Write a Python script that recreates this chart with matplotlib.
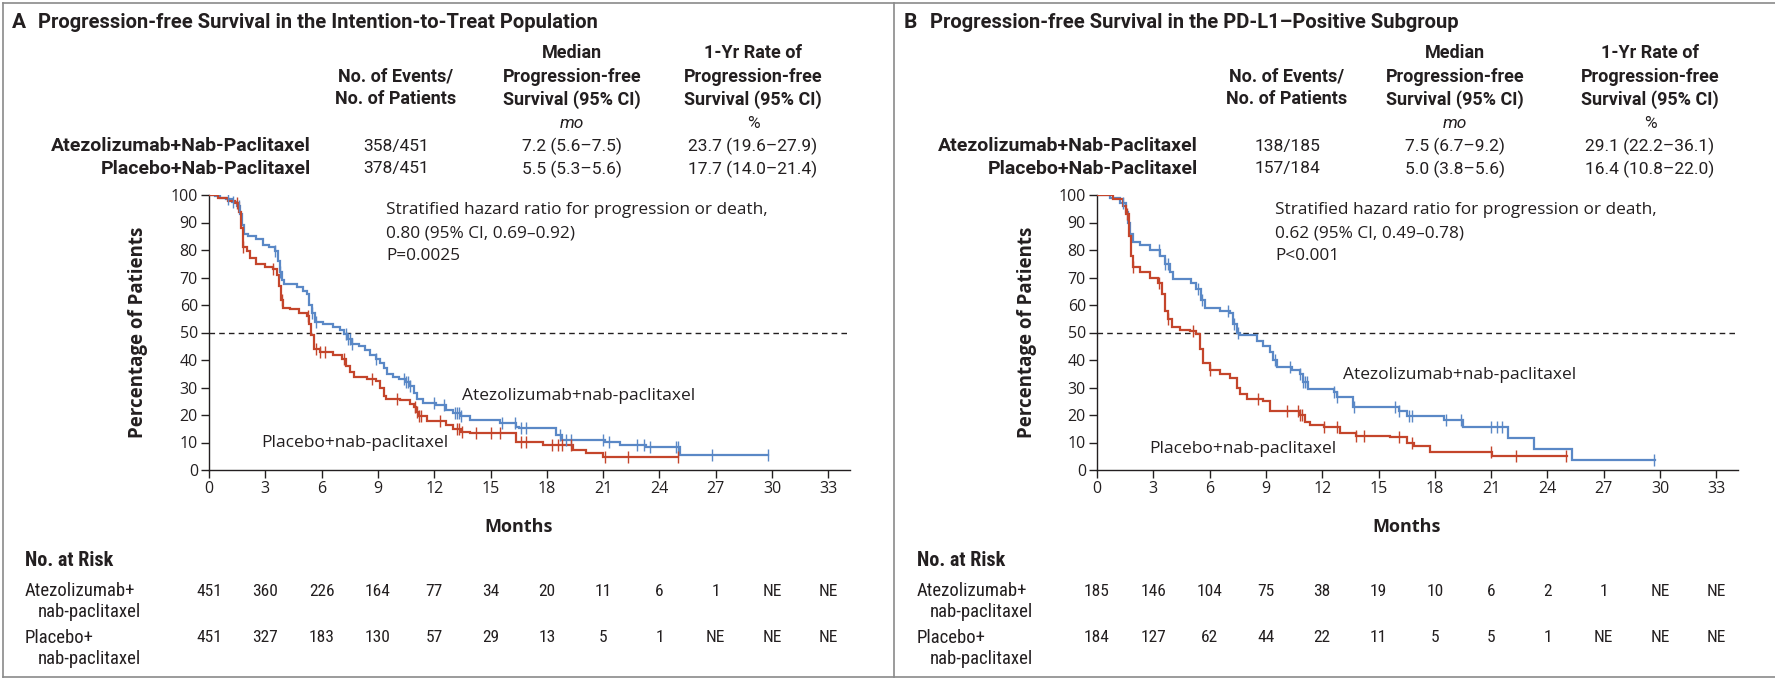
import matplotlib
matplotlib.use("Agg")
import matplotlib.pyplot as plt
from matplotlib import font_manager as fm
from matplotlib.transforms import Affine2D, blended_transform_factory
from matplotlib.lines import Line2D

# ---------------------------------------------------------------- data
# Kaplan-Meier steps: (month, percent progression-free after the step)
atezo_itt = [(0, 100), (0.3, 99.6), (0.6, 99), (0.9, 98.5), (1.2, 97.5), (1.5, 96), (1.65, 93),
             (1.75, 89), (1.85, 86), (2.1, 85), (2.5, 84), (2.9, 82), (3.2, 81), (3.5, 79.5),
             (3.7, 76), (3.8, 72), (3.9, 69), (4.0, 67.5), (4.7, 66.5), (5.0, 65), (5.2, 64),
             (5.35, 60), (5.5, 57), (5.65, 54), (6.1, 53), (6.6, 52), (7.0, 51), (7.2, 49.5),
             (7.35, 47.5), (7.6, 46), (8.0, 45), (8.3, 43.5), (8.6, 42), (8.9, 40.5), (9.1, 39),
             (9.3, 37), (9.5, 35), (9.8, 34), (10.1, 33), (10.5, 32), (10.7, 30.5), (10.9, 28),
             (11.1, 26), (11.4, 24.5), (12.1, 23.5), (12.6, 22), (13.0, 20.8), (13.4, 19.5),
             (13.9, 18.2), (15.5, 17), (16.35, 15.8), (16.5, 15.2), (18.5, 12.6), (18.8, 11.0),
             (21.1, 10.3), (21.9, 9.1), (23.3, 8.5), (25.1, 5.5)]
atezo_itt_end = 29.8
atezo_itt_censor = [1.0, 1.3, 1.6, 3.5, 3.8, 5.5, 5.7, 7.3, 7.4, 7.5, 7.6, 8.9, 10.4, 10.5, 10.6,
                    10.7, 12.0, 12.5, 13.1, 13.2, 13.3, 13.4, 15.6, 16.3, 16.6, 16.9, 18.7, 19.0,
                    19.3, 21.0, 21.3, 22.8, 23.2, 23.5, 24.9, 25.0, 26.8, 29.8]

placebo_itt = [(0, 100), (0.5, 99), (1.0, 98), (1.4, 97), (1.6, 94), (1.7, 88), (1.8, 81),
               (2.0, 79.5), (2.2, 77), (2.5, 75), (3.0, 74), (3.4, 73), (3.6, 71), (3.75, 67),
               (3.85, 62), (3.95, 59), (4.3, 58.5), (4.8, 57), (5.2, 56), (5.35, 53), (5.45, 49),
               (5.6, 44), (5.9, 43), (6.6, 42), (7.1, 40.5), (7.3, 38), (7.5, 35.5), (7.7, 34),
               (8.4, 33), (8.9, 32.5), (9.1, 30), (9.3, 27), (9.45, 26), (10.2, 25.5), (10.7, 24),
               (10.9, 23), (11.05, 21), (11.2, 19.5), (11.6, 18), (12.6, 16.5), (13.0, 15),
               (13.4, 14), (13.9, 13.3), (16.35, 10.3), (17.8, 9.1), (19.4, 7.3), (20.1, 6.1),
               (21.0, 4.8)]
placebo_itt_end = 25.0
placebo_itt_censor = [1.5, 1.8, 3.4, 3.9, 5.3, 5.7, 5.9, 6.2, 7.2, 8.7, 10.0, 11.0, 11.1, 11.2,
                      11.3, 12.3, 13.2, 13.3, 13.5, 14.2, 15.0, 15.5, 16.6, 16.9, 18.3, 18.6,
                      18.8, 19.3, 21.1, 22.3, 25.0]

atezo_pdl1 = [(0, 100), (0.7, 99), (1.2, 97), (1.55, 94), (1.65, 90), (1.75, 86), (1.9, 83),
              (2.3, 82), (2.8, 80), (3.35, 78), (3.6, 75), (3.9, 72), (4.05, 69.5), (5.0, 68),
              (5.3, 66), (5.55, 62), (5.75, 59), (6.55, 58), (7.1, 57), (7.25, 53), (7.45, 50),
              (7.6, 49), (8.5, 47), (8.85, 45), (9.2, 43), (9.4, 40), (9.6, 37.5), (10.4, 36.5),
              (10.8, 35), (11.0, 32), (11.25, 29.5), (12.6, 28.3), (12.8, 26.5), (13.65, 22.8),
              (16.1, 21.6), (16.5, 19.8), (18.5, 18.2), (19.5, 15.6), (21.9, 11.7), (23.3, 7.7),
              (25.3, 3.6)]
atezo_pdl1_end = 29.75
atezo_pdl1_censor = [1.4, 3.3, 3.6, 3.8, 5.4, 5.6, 7.0, 7.3, 7.5, 9.5, 10.3, 10.8, 11.0, 11.1,
                     11.2, 12.6, 12.8, 13.7, 15.9, 16.1, 16.6, 16.8, 18.6, 19.4, 21.0, 21.3,
                     21.6, 29.7]

placebo_pdl1 = [(0, 100), (0.85, 98.5), (1.4, 96), (1.55, 93), (1.7, 85), (1.8, 78), (1.9, 74),
                (2.3, 72), (2.8, 70), (3.25, 68), (3.45, 64), (3.6, 58), (3.8, 55), (3.97, 52),
                (4.4, 51), (4.95, 50.5), (5.3, 49.5), (5.48, 44), (5.66, 39), (6.0, 36.5),
                (6.55, 35), (7.1, 33.5), (7.44, 30), (7.6, 27.5), (7.97, 26), (8.86, 25),
                (9.2, 21.5), (10.8, 20), (11.1, 17.5), (11.35, 16.3), (12.1, 15.6), (12.95, 13.4),
                (13.8, 12.5), (15.6, 11.9), (16.5, 10), (16.9, 8.9), (17.75, 6.4), (21.04, 5.2)]
placebo_pdl1_end = 25.04
placebo_pdl1_censor = [1.6, 1.9, 3.3, 3.8, 5.1, 6.0, 8.6, 10.1, 10.7, 10.8, 10.9, 12.1, 12.8,
                       13.8, 14.2, 16.1, 16.8, 21.0, 22.3, 25.0]

risk_months = list(range(0, 34, 3))
risk_atezo_itt = ["451", "360", "226", "164", "77", "34", "20", "11", "6", "1", "NE", "NE"]
risk_placebo_itt = ["451", "327", "183", "130", "57", "29", "13", "5", "1", "NE", "NE", "NE"]
risk_atezo_pdl1 = ["185", "146", "104", "75", "38", "19", "10", "6", "2", "1", "NE", "NE"]
risk_placebo_pdl1 = ["184", "127", "62", "44", "22", "11", "5", "5", "1", "NE", "NE", "NE"]

header_cols = ["No. of Events/\nNo. of Patients",
               "Median\nProgression-free\nSurvival (95% CI)",
               "1-Yr Rate of\nProgression-free\nSurvival (95% CI)"]
header_units = ["", "mo", "%"]
arm_names = ["Atezolizumab+Nab-Paclitaxel", "Placebo+Nab-Paclitaxel"]
summary_itt = [["358/451", "7.2 (5.6\u20137.5)", "23.7 (19.6\u201327.9)"],
               ["378/451", "5.5 (5.3\u20135.6)", "17.7 (14.0\u201321.4)"]]
summary_pdl1 = [["138/185", "7.5 (6.7\u20139.2)", "29.1 (22.2\u201336.1)"],
                ["157/184", "5.0 (3.8\u20135.6)", "16.4 (10.8\u201322.0)"]]
hazard_itt = ["Stratified hazard ratio for progression or death,",
              "0.80 (95% CI, 0.69\u20130.92)", "P=0.0025"]
hazard_pdl1 = ["Stratified hazard ratio for progression or death,",
               "0.62 (95% CI, 0.49\u20130.78)", "P<0.001"]

# ---------------------------------------------------------------- style
W, H = 1775, 680
BLUE = "#5A88C6"
RED = "#C4452B"
INK = "#231F20"

avail = {f.name for f in fm.fontManager.ttflist}
def pick(names, default):
    for n in names:
        if n in avail:
            return n
    return default

TABLE = pick(["Roboto", "Liberation Sans"], "DejaVu Sans")
NARROW = pick(["Liberation Sans Narrow", "Roboto Condensed", "Open Sans Condensed"], TABLE)
PLOT = pick(["Open Sans", "Lato", "Noto Sans"], "DejaVu Sans")

fig = plt.figure(figsize=(W / 100, H / 100), dpi=100)
PX = Affine2D().scale(1 / W, -1 / H).translate(0, 1) + fig.transFigure


def ftext(x, y, s, **kw):
    kw.setdefault("color", INK)
    kw.setdefault("family", TABLE)
    fig.text(x, y, s, transform=PX, **kw)


def surv_at(steps, t):
    val = steps[0][1]
    for tt, s in steps:
        if tt <= t:
            val = s
    return val


def draw_curve(ax, steps, end, censor, color):
    ts = [t for t, _ in steps] + [end]
    ss = [s for _, s in steps] + [steps[-1][1]]
    ax.step(ts, ss, where="post", color=color, lw=1.6, solid_joinstyle="miter", zorder=3)
    ax.plot(censor, [surv_at(steps, c) for c in censor], ls="none", marker="|",
            ms=8, mew=1.0, color=color, zorder=4)


XMAX = 34.15
panels = [
    dict(x0=209, letter="A", title="Progression-free Survival in the Intention-to-Treat Population",
         tx=(12, 38), cols=[396, 572, 753], rowx=311, summary=summary_itt,
         curves=[(atezo_itt, atezo_itt_end, atezo_itt_censor, BLUE),
                 (placebo_itt, placebo_itt_end, placebo_itt_censor, RED)],
         hazard=hazard_itt, hx=386,
         lab_atezo=(13.5, 27.0), lab_plac=(2.8, 9.8),
         risk=(risk_atezo_itt, risk_placebo_itt), left=25, ylab=138),
    dict(x0=1097, letter="B", title="Progression-free Survival in the PD-L1\u2013Positive Subgroup",
         tx=(904, 930), cols=[1287, 1455, 1650], rowx=1198, summary=summary_pdl1,
         curves=[(atezo_pdl1, atezo_pdl1_end, atezo_pdl1_censor, BLUE),
                 (placebo_pdl1, placebo_pdl1_end, placebo_pdl1_censor, RED)],
         hazard=hazard_pdl1, hx=1275,
         lab_atezo=(13.1, 34.6), lab_plac=(2.8, 7.6),
         risk=(risk_atezo_pdl1, risk_placebo_pdl1), left=917, ylab=1027),
]

Y_TOP, Y_BOT = 195, 470
PXM = 18.77  # pixels per month

for p in panels:
    width = XMAX * PXM
    ax = fig.add_axes([p["x0"] / W, 1 - Y_BOT / H, width / W, (Y_BOT - Y_TOP) / H])
    for c in p["curves"]:
        draw_curve(ax, *c)
    ax.axhline(50, color=INK, lw=1.0, dashes=(4, 3), zorder=2)
    ax.set_xlim(0, XMAX)
    ax.set_ylim(0, 100)
    ax.set_xticks(risk_months)
    ax.set_yticks(range(0, 101, 10))
    for s in ("top", "right"):
        ax.spines[s].set_visible(False)
    for s in ("left", "bottom"):
        ax.spines[s].set_linewidth(1.0)
        ax.spines[s].set_color(INK)
    ax.tick_params(direction="out", length=6, width=1.0, color=INK, labelcolor=INK,
                   labelsize=11.5, pad=2)
    for lab in ax.get_xticklabels() + ax.get_yticklabels():
        lab.set_family(PLOT)
    ax.patch.set_alpha(0)

    # curve labels and hazard ratio
    ax.text(*p["lab_atezo"], "Atezolizumab+nab-paclitaxel", family=PLOT, fontsize=12.5,
            color=INK, va="center", ha="left")
    ax.text(*p["lab_plac"], "Placebo+nab-paclitaxel", family=PLOT, fontsize=12.5,
            color=INK, va="center", ha="left")
    for i, line in enumerate(p["hazard"]):
        ftext(p["hx"], 210 + 23 * i, line, family=PLOT, fontsize=12.4, va="center")

    # axis titles
    ftext(p["ylab"], (Y_TOP + Y_BOT) / 2, "Percentage of Patients", family=PLOT,
          fontsize=13.5, weight="bold", rotation=90, ha="center", va="center")
    ftext(p["x0"] + 16.5 * PXM, 527, "Months", family=PLOT, fontsize=13, weight="bold",
          ha="center", va="center")

    # panel title
    ftext(p["tx"][0], 23, p["letter"], fontsize=15, weight="bold", va="center")
    ftext(p["tx"][1], 23, p["title"], fontsize=14.5, weight="bold", va="center")

    # summary table
    for cx, head, unit in zip(p["cols"], header_cols, header_units):
        lines = head.split("\n")
        for j, ln in enumerate(lines):
            yy = 99.5 - 23 * (len(lines) - 1 - j)
            ftext(cx, yy, ln, fontsize=13, weight="bold", ha="center", va="center")
        if unit:
            ftext(cx, 124, unit, fontsize=12.5, style="italic" if unit == "mo" else "normal",
                  ha="center", va="center")
    for r, (name, vals) in enumerate(zip(arm_names, p["summary"])):
        yy = 146 + 23 * r
        ftext(p["rowx"], yy, name, fontsize=14, weight="bold", ha="right", va="center")
        for cx, v in zip(p["cols"], vals):
            ftext(cx, yy, v, fontsize=12.5, ha="center", va="center")

    # number at risk
    ftext(p["left"], 561, "No. at Risk", family=NARROW, fontsize=14.5, weight="bold", va="center")
    ftext(p["left"], 591, "Atezolizumab+", family=NARROW, fontsize=13.5, va="center")
    ftext(p["left"] + 13, 612, "nab-paclitaxel", family=NARROW, fontsize=13.5, va="center")
    ftext(p["left"], 638, "Placebo+", family=NARROW, fontsize=13.5, va="center")
    ftext(p["left"] + 13, 659, "nab-paclitaxel", family=NARROW, fontsize=13.5, va="center")
    btr = blended_transform_factory(ax.transData, PX)
    for row, yy in zip(p["risk"], (591, 638)):
        for m, v in zip(risk_months, row):
            ax.text(m, yy, v, transform=btr, family=NARROW, fontsize=12.5, color=INK,
                    ha="center", va="center", clip_on=False)

# panel frames
frame = dict(color="#8A8A8A", lw=1.2, transform=PX)
for xs, ys in [((3, 1775), (3, 3)), ((3, 1775), (677, 677)), ((3, 3), (3, 677)),
               ((894, 894), (3, 677))]:
    fig.add_artist(Line2D(xs, ys, **frame))

fig.savefig("out.png", dpi=100, facecolor="white")
